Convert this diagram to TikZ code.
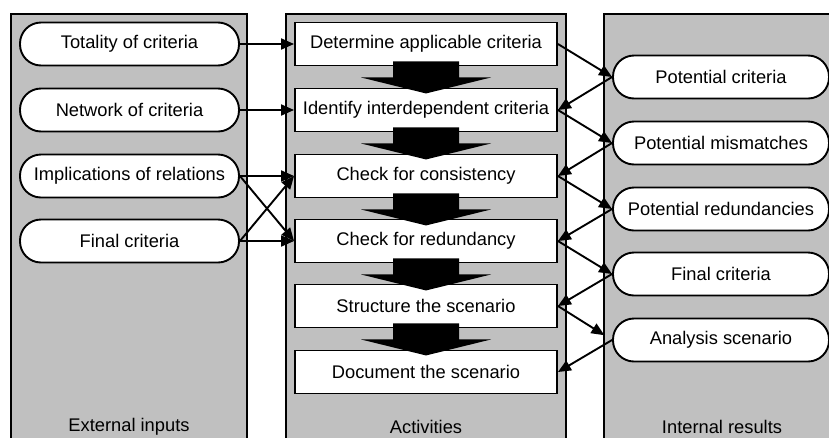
\documentclass[tikz,border=0pt]{standalone}
\usepackage{fontspec}
\setmainfont{Liberation Sans}
\usetikzlibrary{arrows.meta,calc}
\definecolor{lanegray}{RGB}{192,192,192}

\begin{document}
\begin{tikzpicture}[x=1pt,y=-1pt,line width=1.9pt,
		every node/.style={font=\fontsize{18.3}{22}\selectfont},
		lane/.style={draw,fill=lanegray},
		pill/.style={draw,fill=white,rounded corners=21pt,minimum height=43pt,inner sep=0pt},
		task/.style={draw,fill=white,minimum height=43pt,minimum width=262pt,inner sep=0pt},
		flow/.style={-{Triangle[length=13pt,width=11pt]}}]
				\clip (0,0) rectangle (829,437);
				\draw[lane] (11,14) rectangle (247,460);
				\draw[lane] (286,14) rectangle (566,460);
				\draw[lane] (604,14) rectangle (850,460);
				% external inputs
				\node[pill,minimum width=219pt] (in1) at (129.5,44) {Totality of criteria};
				\node[pill,minimum width=219pt] (in2) at (129.5,110) {Network of criteria};
				\node[pill,minimum width=219pt] (in3) at (129.5,176) {Implications of relations};
				\node[pill,minimum width=219pt] (in4) at (129.5,241) {Final criteria};
				% activities
				\node[task] (a1) at (426,44) {Determine applicable criteria};
				\node[task] (a2) at (426,110) {Identify interdependent criteria};
				\node[task] (a3) at (426,176) {Check for consistency};
				\node[task] (a4) at (426,241) {Check for redundancy};
				\node[task] (a5) at (426,306) {Structure the scenario};
				\node[task] (a6) at (426,372) {Document the scenario};
				% internal results
				\node[pill,minimum width=216pt] (r1) at (721,77) {Potential criteria};
				\node[pill,minimum width=216pt] (r2) at (721,143) {Potential mismatches};
				\node[pill,minimum width=216pt] (r3) at (721,209) {Potential redundancies};
				\node[pill,minimum width=216pt] (r4) at (721,274) {Final criteria};
				\node[pill,minimum width=216pt] (r5) at (721,340) {Analysis scenario};
				\node (ext) at (129,427) {External inputs};
				\node (act) at (426,427) {Activities};
				\node (res) at (722,427) {Internal results};
				\draw[flow] (in1.east) -- (a1.west);
				\draw[flow] (in2.east) -- (a2.west);
				\draw[flow] (in3.east) -- (a3.west);
				\draw[flow] (in3.east) -- (a4.west);
				\draw[flow] (in4.east) -- (a4.west);
				\draw[flow] (in4.east) -- (a3.west);
				\draw[flow] (a1.east) -- (r1.west);
				\draw[flow] (r1.west) -- (a2.east);
				\draw[flow] (a2.east) -- (r2.west);
				\draw[flow] (r2.west) -- (a3.east);
				\draw[flow] (a3.east) -- (r3.west);
				\draw[flow] (r3.west) -- (a4.east);
				\draw[flow] (a4.east) -- (r4.west);
				\draw[flow] (r4.west) -- (a5.east);
				\draw[flow,shorten >=9pt] (a5.east) -- (r5.west);
				\draw[flow] (r5.west) -- (a6.east);
				% block arrows between the activities
				\foreach \a in {a1,a2,a3,a4,a5}
					\fill ($(\a.south)+(-33,-5)$) -- ++(66,0) -- ++(0,16) -- ++(32,0) -- ($(\a.south)+(0,27)$) -- ++(-65,-16) -- ++(32,0) -- cycle;
			\end{tikzpicture}
\end{document}
